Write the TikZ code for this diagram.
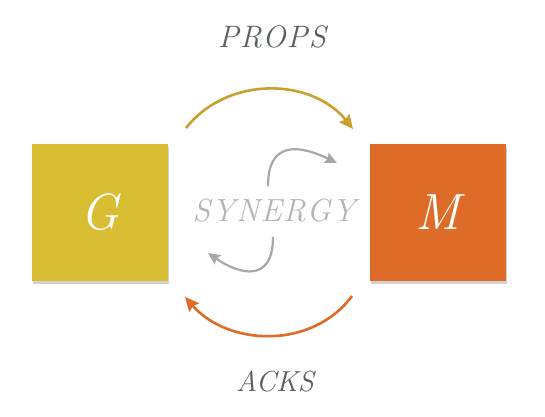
\documentclass[tikz,border=0pt]{standalone}
\usepackage{fontspec}
\newfontfamily\spacedA{Latin Modern Roman}[LetterSpace=4]
\newfontfamily\spacedB{Latin Modern Roman}[LetterSpace=4]
\usetikzlibrary{arrows.meta,shadows}
\definecolor{gold}{HTML}{D9BD33}
\definecolor{goldarrow}{HTML}{C9A02E}
\definecolor{orng}{HTML}{DE6B27}
\definecolor{label}{HTML}{595E66}
\definecolor{syn}{HTML}{B4B4B4}
\definecolor{garrow}{HTML}{A8A8A8}
\tikzset{
  agent/.style={minimum width=136pt,minimum height=137pt,inner sep=0pt,text=white,
    font=\fontsize{51}{58}\selectfont\itshape,
    drop shadow={shadow xshift=1pt,shadow yshift=-2.5pt,opacity=0.35}},
  biglabel/.style={text=label,inner sep=0pt},
  flow/.style={line width=2.6pt,-{Stealth[length=14pt,width=13pt,inset=2pt]}},
  garr/.style={line width=2.2pt,color=garrow,-{Stealth[length=12pt,width=11pt,inset=2pt]}}
}
\begin{document}
\begin{tikzpicture}[x=1pt,y=-1pt]
\useasboundingbox[fill=white] (0,0) rectangle (545,416);
\node[agent,fill=gold] (g) at (100,212.5) {G};
\node[agent,fill=orng] (m) at (437.5,212.5) {M};
\node[biglabel,font=\spacedA\fontsize{31}{36}\selectfont\itshape] (props) at (272,37) {PROPS};
\node[biglabel,font=\fontsize{29}{34}\selectfont\itshape] (acks) at (275,381) {ACKS};
\node[text=syn,inner sep=0pt,font=\spacedB\fontsize{32}{36}\selectfont\itshape] (syn) at (274,211) {SYNERGY};
\coordinate (t1) at (186,128);
\coordinate (t2) at (353,129);
\coordinate (b1) at (352,296);
\coordinate (b2) at (185,297);
\draw[flow,goldarrow] (t1) .. controls (228,75) and (312,78) .. (t2);
\draw[flow,orng] (b1) .. controls (312,350) and (228,346) .. (b2);
\coordinate (u1) at (268,186);
\coordinate (u2) at (337,163);
\coordinate (l1) at (273,237);
\coordinate (l2) at (208,253);
\draw[garr] (u1) .. controls (268,140) and (300,145) .. (u2);
\draw[garr] (l1) .. controls (273,283) and (240,275) .. (l2);
\end{tikzpicture}
\end{document}
